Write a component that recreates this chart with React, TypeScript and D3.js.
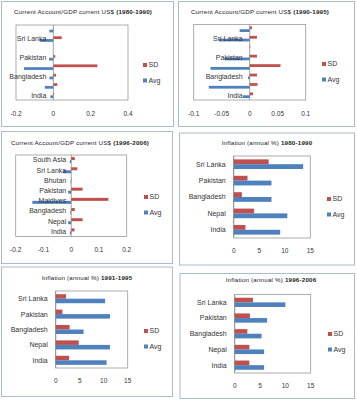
import React from "react";
import * as d3 from "d3";

const cats8 = ["India", "Nepal", "Bangladesh", "Maldives", "Pakistan", "Bhutan", "Sri Lanka", "South Asia"];
const cats5 = ["India", "Nepal", "Bangladesh", "Pakistan", "Sri Lanka"];

const ca8090Avg = [-0.016, -0.046, -0.021, -0.157, -0.023, 0, -0.073, -0.021];
const ca8090Sd = [0.004, 0.021, 0.014, 0.236, 0.01, 0, 0.045, 0.002];
const ca9095Avg = [-0.012, -0.073, -0.003, -0.07, -0.045, 0, -0.055, -0.018];
const ca9095Sd = [0.006, 0.014, 0.013, 0.055, 0.013, 0.001, 0.013, 0.004];
const ca9606Avg = [-0.005, -0.011, -0.003, -0.14, -0.011, -0.002, -0.029, -0.005];
const ca9606Sd = [0.012, 0.041, 0.013, 0.134, 0.041, 0.001, 0.022, 0.013];

const inf8090Avg = [9.1, 10.5, 7.4, 7.4, 13.6];
const inf8090Sd = [2.3, 4.0, 1.6, 2.7, 6.85];
const inf9195Avg = [10.6, 11.3, 5.8, 11.3, 10.3];
const inf9195Sd = [2.8, 4.8, 2.9, 1.4, 2.15];
const inf9606Avg = [5.8, 5.8, 5.3, 6.4, 10.0];
const inf9606Sd = [2.9, 2.9, 2.5, 3.0, 3.6];

const ticksCa8090 = [-0.2, 0, 0.2, 0.4];
const ticksCa9095 = [-0.1, -0.05, 0, 0.05, 0.1];
const ticksCa9606 = [-0.2, -0.1, 0, 0.1, 0.2];
const ticksInf = [0, 5, 10, 15];

const seriesNames = ["SD", "Avg"];
const RED = "#c0504d";
const BLUE = "#4f81bd";
const FONT = "'Liberation Sans', Arial, sans-serif";

type PanelDef = {
  titleMain: string;
  titleYears: string;
  cats: string[];
  avg: number[];
  sd: number[];
  ticks: number[];
  labelEvery: number;
  frame: [number, number, number, number];
  plot: [number, number, number, number];
  titleXY: [number, number];
  legendXY: [number, number];
  tickY: number;
  labelGap: number;
};

const panels: PanelDef[] = [
  {
    titleMain: "Current Account/GDP current US$ ", titleYears: "(1980-1990)",
    cats: cats8, avg: ca8090Avg, sd: ca8090Sd, ticks: ticksCa8090, labelEvery: 2,
    frame: [1.5, 1.5, 173.5, 126.5], plot: [16, 25, 128, 100],
    titleXY: [83, 14], legendXY: [145, 65], tickY: 115.5, labelGap: 7,
  },
  {
    titleMain: "Current Account/GDP current US$ ", titleYears: "(1990-1995)",
    cats: cats8, avg: ca9095Avg, sd: ca9095Sd, ticks: ticksCa9095, labelEvery: 2,
    frame: [178.5, 1.5, 354.5, 126.5], plot: [193.7, 24.5, 305.7, 100],
    titleXY: [260, 14], legendXY: [324, 64], tickY: 115.5, labelGap: 7,
  },
  {
    titleMain: "Current Account/GDP current US$ ", titleYears: "(1996-2006)",
    cats: cats8, avg: ca9606Avg, sd: ca9606Sd, ticks: ticksCa9606, labelEvery: 1,
    frame: [1.5, 131.5, 172.5, 263.5], plot: [15.7, 155, 126.7, 236.5],
    titleXY: [80, 145], legendXY: [146, 197], tickY: 251.5, labelGap: 5,
  },
  {
    titleMain: "Inflation (annual %) ", titleYears: "1980-1990",
    cats: cats5, avg: inf8090Avg, sd: inf8090Sd, ticks: ticksInf, labelEvery: 1,
    frame: [179.5, 133, 354.5, 265], plot: [233.7, 156, 310.3, 238],
    titleXY: [267, 145], legendXY: [329, 199], tickY: 253, labelGap: 8,
  },
  {
    titleMain: "Inflation (annual %) ", titleYears: "1991-1995",
    cats: cats5, avg: inf9195Avg, sd: inf9195Sd, ticks: ticksInf, labelEvery: 1,
    frame: [1.5, 267, 172.5, 396.5], plot: [55.7, 291, 127.7, 368],
    titleXY: [87, 280], legendXY: [146, 331], tickY: 382.5, labelGap: 8,
  },
  {
    titleMain: "Inflation (annual %) ", titleYears: "1996-2006",
    cats: cats5, avg: inf9606Avg, sd: inf9606Sd, ticks: ticksInf, labelEvery: 1,
    frame: [180, 273.5, 354.5, 398.5], plot: [234.7, 294.5, 310.7, 373],
    titleXY: [271, 282], legendXY: [330, 334], tickY: 387.5, labelGap: 8,
  },
];

function Panel({ p }: { p: PanelDef }) {
  const [x0, y0, x1, y1] = p.plot;
  const x = d3.scaleLinear().domain([p.ticks[0], p.ticks[p.ticks.length - 1]]).range([x0, x1]);
  const y = d3.scaleBand<string>().domain([...p.cats].reverse()).range([y0, y1]).paddingInner(0).paddingOuter(0);
  const bw = y.bandwidth();
  const barH = bw / 3.4;
  const zero = x(0);
  const [fx0, fy0, fx1, fy1] = p.frame;
  return (
    <g>
      <rect x={fx0} y={fy0} width={fx1 - fx0} height={fy1 - fy0} fill="#ffffff" stroke="#a9bccb" strokeWidth={1} />
      <text x={p.titleXY[0]} y={p.titleXY[1]} textAnchor="middle" fontSize={6.2} letterSpacing={0.2} fontFamily={FONT} fill="#222">
        {p.titleMain}
        <tspan fontWeight="bold">{p.titleYears}</tspan>
      </text>
      <rect x={x0} y={y0} width={x1 - x0} height={y1 - y0} fill="none" stroke="#9a9a9a" strokeWidth={0.8} />
      <line x1={zero} x2={zero} y1={y0} y2={y1} stroke="#8c8c8c" strokeWidth={0.8} />
      {p.cats.map((c, i) => {
        const cy = (y(c) as number) + bw / 2;
        const sdV = p.sd[i];
        const avV = p.avg[i];
        return (
          <g key={c}>
            <rect x={Math.min(x(sdV), zero)} y={cy - barH} width={Math.abs(x(sdV) - zero)} height={barH} fill={RED} />
            <rect x={Math.min(x(avV), zero)} y={cy} width={Math.abs(x(avV) - zero)} height={barH} fill={BLUE} />
          </g>
        );
      })}
      {p.cats.map((c, i) =>
        i % p.labelEvery === 0 ? (
          <text key={"l" + c} x={zero - p.labelGap} y={(y(c) as number) + bw / 2 + 2.4} textAnchor="end"
            fontSize={7} fontFamily={FONT} fill="#333">
            {c}
          </text>
        ) : null
      )}
      {p.ticks.map((t) => (
        <text key={"t" + t} x={x(t)} y={p.tickY} textAnchor="middle" fontSize={6.5} fontFamily={FONT} fill="#333">
          {String(t)}
        </text>
      ))}
      {seriesNames.map((s, i) => (
        <g key={s}>
          <rect x={p.legendXY[0] - 2} y={p.legendXY[1] + i * 15.5 - 2} width={4} height={4} fill={s === "SD" ? RED : BLUE} />
          <text x={p.legendXY[0] + 3.5} y={p.legendXY[1] + i * 15.5 + 2.4} fontSize={7} fontFamily={FONT} fill="#333">
            {s}
          </text>
        </g>
      ))}
    </g>
  );
}

export default function App() {
  return (
    <svg width={357} height={400} style={{ position: "absolute", left: 0, top: 0, background: "#fff" }}>
      <rect x={0} y={0} width={357} height={400} fill="#ffffff" />
      {panels.map((p) => (
        <Panel key={p.titleMain + p.titleYears} p={p} />
      ))}
    </svg>
  );
}
